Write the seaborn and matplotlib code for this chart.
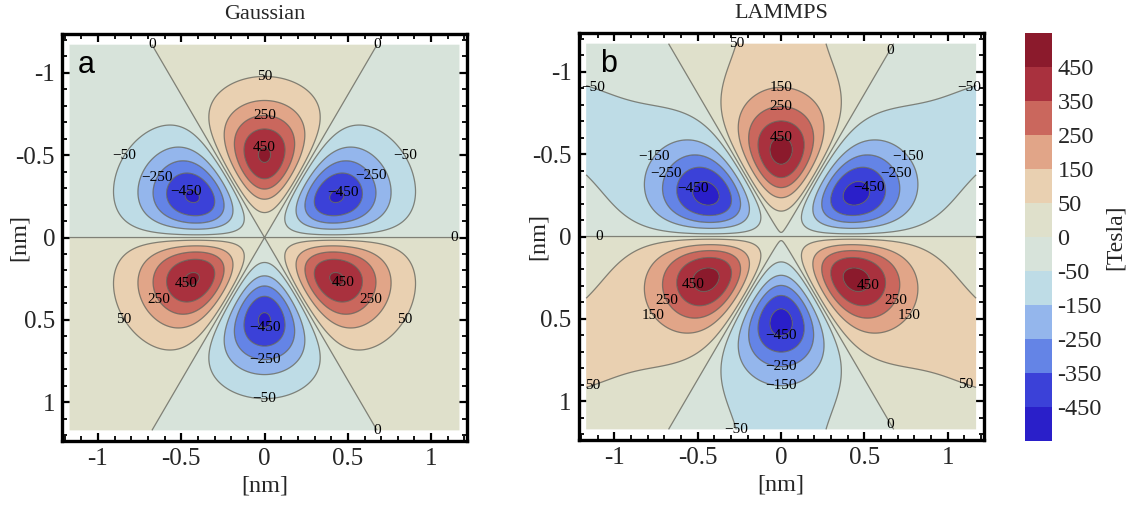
import numpy as np
import matplotlib
matplotlib.use("Agg")
import matplotlib.pyplot as plt
from matplotlib.ticker import MultipleLocator, FixedLocator
import seaborn as sns

# ---------------- values ----------------
panel_titles = ["Gaussian", "LAMMPS"]
panel_letters = ["a", "b"]
contour_levels = [-450, -350, -250, -150, -50, 0, 50, 150, 250, 350, 450]
field_floor_T = -650
field_ceil_T = 650
band_colors = ["#2a1fc9", "#3b41d8", "#6484e6", "#94b6ec", "#bedce6", "#d7e3da",
               "#dfe0cb", "#e9d0b1", "#e1a588", "#ca675d", "#a9313e", "#8b1a2c"]
colorbar_tick_labels = ["-450", "-350", "-250", "-150", "-50", "0",
                        "50", "150", "250", "350", "450"]
axis_ticks = [-1, -0.5, 0, 0.5, 1]
axis_tick_labels = ["-1", "-0.5", "0", "0.5", "1"]
colorbar_title = "[Tesla]"
axis_title = "[nm]"

# model parameters of the pseudo-magnetic field
data_half_width_nm = 1.17
lobe_radius_nm = 0.5
gauss_peak_T = 461
lammps_core_peak_T = 450
lammps_tail_T = 70
lammps_tail_decay_nm = 3.0
lammps_center_dipole_T_per_nm = 10
lammps_center_dipole_radius_nm = 0.35

# label anchor points (layout only)
labels_a = {
    0: [(-0.67, -1.18), (0.67, -1.18), (1.14, 0.0), (0.67, 1.18)],
    50: [(0.0, -0.99), (-0.85, 0.50), (0.85, 0.50)],
    -50: [(-0.85, -0.50), (0.85, -0.50), (0.0, 1.0)],
    250: [(0.0, -0.75), (-0.64, 0.38), (0.65, 0.38)],
    -250: [(-0.67, -0.38), (0.65, -0.38), (0.0, 0.76)],
    450: [(0.0, -0.55), (-0.46, 0.27), (0.47, 0.27)],
    -450: [(-0.46, -0.27), (0.47, -0.27), (0.0, 0.55)],
}
labels_b = {
    0: [(0.6, -1.16), (-1.09, 0.0), (0.6, 1.17)],
    50: [(-0.2, -1.17), (-1.16, 0.81), (1.14, 0.81)],
    -50: [(1.16, -0.81), (-1.16, -0.81), (-0.16, 1.18)],
    150: [(0.0, -0.89), (-0.82, 0.52), (0.82, 0.52)],
    -150: [(-0.84, -0.54), (0.84, -0.54), (0.0, 0.89)],
    250: [(0.0, -0.78), (-0.64, 0.36), (0.64, 0.36)],
    -250: [(-0.64, -0.36), (0.64, -0.36), (0.0, 0.78)],
    450: [(0.0, -0.575), (-0.52, 0.29), (0.51, 0.29)],
    -450: [(-0.52, -0.29), (0.51, -0.29), (0.0, 0.58)],
}

# ---------------- style ----------------
sns.set_theme(style="white")
plt.rcParams["font.family"] = ["Liberation Serif", "DejaVu Serif"]
plt.rcParams["axes.unicode_minus"] = False

# ---------------- fields ----------------
grid = np.linspace(-data_half_width_nm, data_half_width_nm, 600)
X, Y = np.meshgrid(grid, grid)
R = np.hypot(X, Y)
TH = np.arctan2(Y, X)
U = R / lobe_radius_nm
radial = U**3 * np.exp(-1.5 * (U**2 - 1))

B_gauss = gauss_peak_T * radial * np.sin(3 * TH)
tail = lammps_tail_T * U**6 / (1 + U**6) * np.exp(-(R / lammps_tail_decay_nm) ** 2)
B_lammps = (lammps_core_peak_T * radial + tail) * np.sin(3 * TH) \
    + lammps_center_dipole_T_per_nm * Y * np.exp(-(R / lammps_center_dipole_radius_nm) ** 2)

fields = [B_gauss, B_lammps]
label_sets = [labels_a, labels_b]

fill_levels = [field_floor_T] + contour_levels + [field_ceil_T]


def fmt(v):
    return f"{v:.0f}".replace("-", "\u2212")


fig = plt.figure(figsize=(11.28, 5.07), dpi=100)
axes_rects = [[0.055, 0.130, 0.359, 0.803], [0.513, 0.132, 0.359, 0.803]]
ylabel_x = [-0.079, -0.074]
letter_x = [0.040, 0.052]

cf = None
for i in range(2):
    ax = fig.add_axes(axes_rects[i])
    cf = ax.contourf(X, Y, fields[i], levels=fill_levels, colors=band_colors,
                     antialiased=True)
    for lv in contour_levels:
        cs = ax.contour(X, Y, fields[i], levels=[lv], colors="#5e5e55",
                        linewidths=0.9, alpha=0.75, linestyles="solid")
        pts = label_sets[i].get(lv, [])
        if pts:
            txts = ax.clabel(cs, manual=pts, inline=False,
                             fontsize=11, fmt=fmt, colors="black")
            for t in txts:
                t.set_rotation(0)
                t.set_clip_on(True)
                t.set_alpha(1.0)
    ax.set_xlim(-1.215, 1.215)
    ax.set_ylim(1.235, -1.235)
    ax.set_aspect("auto")
    ax.xaxis.set_major_locator(FixedLocator(axis_ticks))
    ax.yaxis.set_major_locator(FixedLocator(axis_ticks))
    ax.set_xticklabels(axis_tick_labels)
    ax.set_yticklabels(axis_tick_labels)
    ax.xaxis.set_minor_locator(MultipleLocator(0.1))
    ax.yaxis.set_minor_locator(MultipleLocator(0.1))
    ax.tick_params(which="both", direction="in", top=True, right=True,
                   bottom=True, left=True, color="black")
    ax.tick_params(which="major", length=6, width=1.6, labelsize=18, pad=5)
    ax.tick_params(which="minor", length=3.5, width=1.3)
    for sp in ax.spines.values():
        sp.set_visible(True)
        sp.set_linewidth(2.4)
        sp.set_color("black")
    ax.set_title(panel_titles[i], fontsize=16, pad=11)
    ax.set_xlabel(axis_title, fontsize=17.5)
    ax.set_ylabel(axis_title, fontsize=17.5)
    ax.xaxis.set_label_coords(0.5, -0.085)
    ax.yaxis.set_label_coords(ylabel_x[i], 0.5)
    ax.text(letter_x[i], 0.903, panel_letters[i], transform=ax.transAxes,
            fontsize=22, family=["Liberation Sans", "DejaVu Sans"],
            ha="left", va="baseline", color="black")

cax = fig.add_axes([0.9087, 0.130, 0.0239, 0.805])
cb = fig.colorbar(cf, cax=cax, spacing="uniform", ticks=contour_levels)
cb.ax.set_yticklabels(colorbar_tick_labels)
cb.outline.set_visible(False)
cb.ax.tick_params(length=0, labelsize=17.5, pad=4)
cb.set_label(colorbar_title, fontsize=17, labelpad=2)

fig.savefig("out.png", dpi=100, facecolor="white")
